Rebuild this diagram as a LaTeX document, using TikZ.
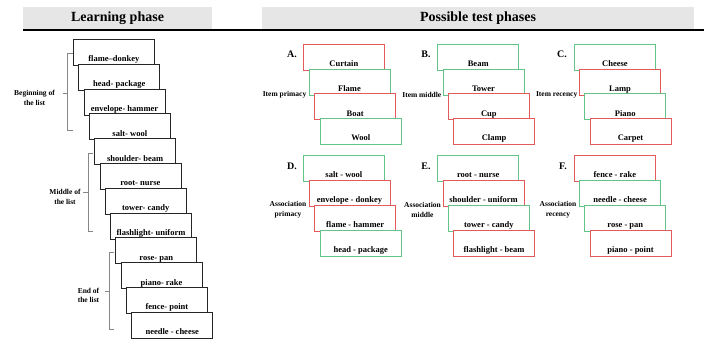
\documentclass[tikz,border=0pt]{standalone}
\usepackage{fontspec}
\setmainfont{Liberation Serif}
\usepackage{tikz}

\definecolor{cardred}{RGB}{226,90,90}
\definecolor{cardgreen}{RGB}{98,196,134}
\definecolor{headgray}{RGB}{230,230,230}
\definecolor{bracegray}{RGB}{135,135,135}

\tikzset{
  card/.style={draw=black!85, fill=white, line width=0.8pt, anchor=north west,
    minimum width=81pt, inner xsep=1pt, inner ysep=1.5pt, text height=21pt, text depth=2pt,
    font=\fontsize{8.5}{9}\selectfont\bfseries},
  redcard/.style={card, draw=cardred},
  greencard/.style={card, draw=cardgreen},
  phasehead/.style={fill=headgray, inner sep=0pt, minimum height=21.5pt,
    font=\fontsize{14}{16}\selectfont\bfseries},
  panelmark/.style={inner sep=0pt, font=\fontsize{10}{12}\selectfont\bfseries},
  sidelabel/.style={inner sep=0pt, align=center, font=\fontsize{7.5}{9.6}\selectfont\bfseries},
  listbrace/.style={draw=bracegray, line width=0.6pt}
}

\begin{document}
\begin{tikzpicture}[x=1pt,y=1pt,yscale=-1,xscale=1]
    \useasboundingbox (0,0) rectangle (705,339);

    % Headings
    \node [phasehead, minimum width=189pt] (learnhead) at (117.5,17.8) {Learning phase};
    \node [phasehead, minimum width=432pt] (testhead) at (478,17.8) {Possible test phases};
    \draw [line width=1.8pt] (23,30.3) -- (704,30.3);

    % Learning phase cards
    \node [card] (learn1) at (73,39) {flame–donkey};
    \node [card] (learn2) at (78.3,63.8) {head- package};
    \node [card] (learn3) at (83.6,88.6) {envelope- hammer};
    \node [card] (learn4) at (88.9,113.4) {salt- wool};
    \node [card] (learn5) at (94.2,138.2) {shoulder- beam};
    \node [card] (learn6) at (99.5,163) {root- nurse};
    \node [card] (learn7) at (104.8,187.8) {tower- candy};
    \node [card] (learn8) at (110.1,212.6) {flashlight- uniform};
    \node [card] (learn9) at (115.4,237.4) {rose- pan};
    \node [card] (learn10) at (120.7,262.2) {piano- rake};
    \node [card] (learn11) at (126,287) {fence- point};
    \node [card] (learn12) at (131.3,311.8) {needle - cheese};

    % Brackets with their labels
    \draw [listbrace] (72.5,53.5) -- (67.5,53.5) -- (67.5,130) -- (72.5,130) (67.5,93.3) -- (62.5,93.3);
    \node [sidelabel] (beginlabel) at (34.5,98) {Beginning of\\the list};
    \draw [listbrace] (93,153.3) -- (88,153.3) -- (88,231) -- (93,231) (88,192.3) -- (82.5,192.3);
    \node [sidelabel] (middlelabel) at (65,197) {Middle of\\the list};
    \draw [listbrace] (114.3,252.7) -- (109,252.7) -- (109,329.3) -- (114.3,329.3) (109,291) -- (104.5,291);
    \node [sidelabel] (endlabel) at (88.5,295.5) {End of\\the list};

    % A. Item primacy
    \node [panelmark] (markA) at (292,54) {A.};
    \node [redcard] (A1) at (303,44) {Curtain};
    \node [greencard] (A2) at (308.6,68.7) {Flame};
    \node [redcard] (A3) at (314.2,93.4) {Boat};
    \node [greencard] (A4) at (319.8,118.1) {Wool};
    \node [sidelabel, anchor=east] (labelA) at (306.5,95) {Item primacy};

    % B. Item middle
    \node [panelmark] (markB) at (426,54) {B.};
    \node [greencard] (B1) at (437.3,44) {Beam};
    \node [greencard] (B2) at (442.6,68.7) {Tower};
    \node [redcard] (B3) at (447.9,93.4) {Cup};
    \node [redcard] (B4) at (453.2,118.1) {Clamp};
    \node [sidelabel, anchor=east] (labelB) at (441.5,95) {Item middle};

    % C. Item recency
    \node [panelmark] (markC) at (562,54) {C.};
    \node [greencard] (C1) at (574,44) {Cheese};
    \node [redcard] (C2) at (579.2,68.7) {Lamp};
    \node [greencard] (C3) at (584.4,93.4) {Piano};
    \node [redcard] (C4) at (589.6,118.1) {Carpet};
    \node [sidelabel, anchor=east] (labelC) at (577.5,95) {Item recency};

    % D. Association primacy
    \node [panelmark] (markD) at (292,166) {D.};
    \node [greencard] (D1) at (303,155) {salt - wool};
    \node [redcard] (D2) at (308.6,180) {envelope - donkey};
    \node [redcard] (D3) at (314.2,205) {flame - hammer};
    \node [greencard] (D4) at (319.8,230) {head - package};
    \node [sidelabel] (labelD) at (288,210) {Association\\primacy};

    % E. Association middle
    \node [panelmark] (markE) at (426,166) {E.};
    \node [greencard] (E1) at (437.3,155) {root - nurse};
    \node [redcard] (E2) at (442.6,180) {shoulder - uniform};
    \node [greencard] (E3) at (447.9,205) {tower - candy};
    \node [redcard] (E4) at (453.2,230) {flashlight - beam};
    \node [sidelabel] (labelE) at (422.5,210) {Association\\middle};

    % F. Association recency
    \node [panelmark] (markF) at (563,166) {F.};
    \node [redcard] (F1) at (574,155) {fence - rake};
    \node [greencard] (F2) at (579.2,180) {needle - cheese};
    \node [greencard] (F3) at (584.4,205) {rose - pan};
    \node [redcard] (F4) at (589.6,230) {piano - point};
    \node [sidelabel] (labelF) at (558,210) {Association\\recency};

\end{tikzpicture}
\end{document}
